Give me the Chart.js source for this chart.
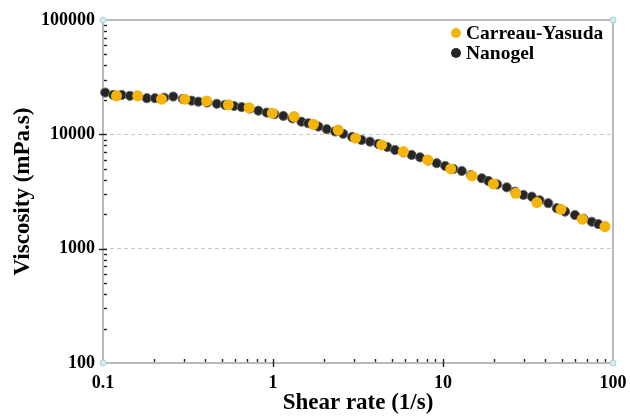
<!DOCTYPE html>
<html><head><meta charset="utf-8">
<script src="https://cdn.jsdelivr.net/npm/chart.js@4.4.1/dist/chart.umd.min.js"></script>
<style>html,body{margin:0;padding:0;background:#fff;}#wrap{width:630px;height:417px;position:relative;}</style>
</head><body><div id="wrap"><canvas id="c" width="630" height="417"></canvas></div>
<script>
// ---- data ----
const seriesNames = ['Carreau-Yasuda', 'Nanogel'];
const cyShear = [0.12,0.16,0.221,0.303,0.407,0.546,0.723,0.99,1.33,1.73,2.42,3.06,4.36,5.84,8.13,11.1,14.8,19.8,26.8,35.7,49.4,65.9,89.7];
const cyVisc  = [21700,21700,20300,20300,19600,18100,17100,15300,14300,12250,10900,9250,8070,7060,5970,4980,4330,3680,3050,2530,2210,1810,1560];
const ngShear = [0.103,0.115,0.129,0.144,0.160,0.181,0.202,0.229,0.259,0.295,0.332,0.364,0.410,0.467,0.522,0.590,0.654,0.730,0.820,0.918,1.02,1.15,1.30,1.47,1.61,1.85,2.07,2.32,2.59,2.92,3.32,3.72,4.16,4.70,5.22,5.85,6.54,7.32,8.20,9.18,10.3,11.5,12.9,14.6,16.9,18.5,20.8,23.7,26.5,29.7,33.3,37.0,41.6,46.7,52.2,59.7,67.0,75.0,82.0,89.7];
const ngVisc  = [23200,22100,22100,21700,21600,20700,20700,20900,21400,20400,19700,19300,19000,18500,18100,17700,17300,16800,16100,15500,15000,14500,13800,12900,12500,11700,11100,10600,10100,9490,8930,8630,8240,7750,7300,6950,6600,6300,5900,5590,5290,4980,4780,4400,4130,3910,3650,3440,3150,2950,2850,2650,2500,2260,2110,1970,1830,1720,1640,1560];
const xTicks = [0.1, 1, 10, 100];
const xTickLabels = ['0.1', '1', '10', '100'];
const yTicks = [100, 1000, 10000, 100000];
const yTickLabels = ['100', '1000', '10000', '100000'];
const gridValues = [1000, 10000];

const FONT = 'Liberation Serif';
const YELLOW = '#F4B40A';
const DARK = '#262626';

const toPts = (xs, ys) => xs.map((x, i) => ({x: x, y: ys[i]}));

const framePlugin = {
  id: 'frame',
  beforeDatasetsDraw(chart) {
    const {ctx, chartArea: a, scales: {x, y}} = chart;
    ctx.save();
    ctx.strokeStyle = '#a8a8a8';
    ctx.lineWidth = 1.6;
    ctx.strokeRect(a.left, a.top, a.right - a.left, a.bottom - a.top);
    ctx.strokeStyle = '#222';
    ctx.lineWidth = 1.4;
    for (let d = -1; d < 2; d++) {
      for (let k = 2; k <= 9; k++) {
        const px = Math.round(x.getPixelForValue(k * Math.pow(10, d))) + 0.5;
        ctx.beginPath(); ctx.moveTo(px, a.bottom - 1); ctx.lineTo(px, a.bottom - 4); ctx.stroke();
      }
    }
    xTicks.slice(1, -1).forEach(v => {
      const px = Math.round(x.getPixelForValue(v)) + 0.5;
      ctx.beginPath(); ctx.moveTo(px, a.bottom - 4); ctx.lineTo(px, a.bottom + 4); ctx.stroke();
    });
    for (let d = 2; d < 5; d++) {
      for (let k = 2; k <= 9; k++) {
        const py = Math.round(y.getPixelForValue(k * Math.pow(10, d))) + 0.5;
        ctx.beginPath(); ctx.moveTo(a.left + 1, py); ctx.lineTo(a.left + 4, py); ctx.stroke();
      }
    }
    yTicks.slice(1, -1).forEach(v => {
      const py = Math.round(y.getPixelForValue(v)) + 0.5;
      ctx.beginPath(); ctx.moveTo(a.left - 4, py); ctx.lineTo(a.left + 4, py); ctx.stroke();
    });
    ctx.fillStyle = '#d6ecf3'; ctx.strokeStyle = '#a9d0de'; ctx.lineWidth = 1;
    [[a.left, a.top], [a.right, a.top], [a.left, a.bottom], [a.right, a.bottom]].forEach(([cx, cy]) => {
      ctx.beginPath(); ctx.arc(cx, cy, 3, 0, Math.PI * 2); ctx.fill(); ctx.stroke();
    });
    ctx.restore();
  },
  afterDraw(chart) {
    const {ctx} = chart;
    ctx.save();
    ctx.font = 'bold 19.5px "' + FONT + '"';
    ctx.textBaseline = 'middle';
    ctx.textAlign = 'left';
    const lx = 456, ly = [33, 53];
    chart.data.datasets.forEach((ds, i) => {
      ctx.beginPath();
      ctx.arc(lx, ly[i], 5, 0, Math.PI * 2);
      ctx.fillStyle = ds.pointBackgroundColor;
      ctx.fill();
      ctx.fillStyle = '#000';
      ctx.fillText(ds.label, lx + 10, ly[i] + 1);
    });
    ctx.restore();
  }
};

new Chart(document.getElementById('c'), {
  type: 'scatter',
  data: {
    datasets: [
      { label: seriesNames[0], data: toPts(cyShear, cyVisc), pointBackgroundColor: YELLOW, pointBorderColor: YELLOW,
        pointBorderWidth: 0, pointRadius: 5.5, showLine: false, clip: false },
      { label: seriesNames[1], data: toPts(ngShear, ngVisc), pointBackgroundColor: DARK, pointBorderColor: '#6a6a6a',
        pointBorderWidth: 1, pointRadius: 4.6, showLine: false, clip: false }
    ]
  },
  options: {
    responsive: false,
    animation: false,
    devicePixelRatio: 1,
    layout: { padding: { top: 20, right: 17, left: 0, bottom: 0 } },
    plugins: { legend: { display: false }, tooltip: { enabled: false } },
    scales: {
      x: {
        type: 'logarithmic', min: 0.1, max: 100, position: 'bottom',
        afterBuildTicks: s => { s.ticks = xTicks.map(v => ({value: v})); },
        afterFit: s => { s.height = 54; s.paddingLeft = 0; s.paddingRight = 0; },
        ticks: { callback: (v, i) => xTickLabels[i], font: {family: FONT, size: 18, weight: 'bold'}, color: '#000',
                 padding: 10, maxRotation: 0, autoSkip: false },
        grid: { display: false, drawTicks: false },
        border: { display: false },
        title: { display: true, text: 'Shear rate (1/s)', color: '#000',
                 font: {family: FONT, size: 23, weight: 'bold'}, padding: {top: 0, bottom: 0} }
      },
      y: {
        type: 'logarithmic', min: 100, max: 100000, position: 'left',
        afterBuildTicks: s => { s.ticks = yTicks.map(v => ({value: v})); },
        afterFit: s => { s.width = 103; s.paddingTop = 0; s.paddingBottom = 0; },
        ticks: { callback: (v, i) => yTickLabels[i], font: {family: FONT, size: 18, weight: 'bold'}, color: '#000',
                 padding: 8, autoSkip: false },
        grid: { drawTicks: false, lineWidth: 1,
                color: c => (c.tick && gridValues.includes(c.tick.value)) ? '#c9c9c9' : 'rgba(0,0,0,0)' },
        border: { display: false, dash: [4, 3] },
        title: { display: true, text: 'Viscosity (mPa.s)', color: '#000',
                 font: {family: FONT, size: 23, weight: 'bold'}, padding: {top: 9, bottom: 0} }
      }
    }
  },
  plugins: [framePlugin]
});
</script></body></html>
